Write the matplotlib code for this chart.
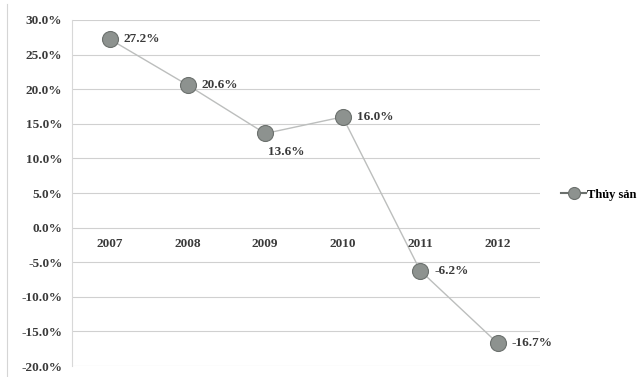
import matplotlib.pyplot as plt
from matplotlib.lines import Line2D
from matplotlib.ticker import FuncFormatter, MultipleLocator

# Dữ liệu
years = ["2007", "2008", "2009", "2010", "2011", "2012"]
growth = [27.2, 20.6, 13.6, 16.0, -6.2, -16.7]
series_name = "Thủy sản"

plt.rcParams.update({
    "font.family": ["Liberation Serif", "DejaVu Serif"],
    "font.weight": "bold",
    "font.size": 9.5,
})
FS = 9.5
TXT = "#3a3a3a"

fig = plt.figure(figsize=(6.44, 3.77), dpi=100)
ax = fig.add_axes([0.112, 0.029, 0.727, 0.918])

x = range(len(years))
ax.plot(x, growth, color="#bcbebd", linewidth=1.0, marker="o",
        markersize=11.5, markerfacecolor="#8d928f", markeredgecolor="#6b706d",
        markeredgewidth=0.8, label=series_name, zorder=3)

# Nhãn giá trị
for i, v in enumerate(growth):
    if i == 2:
        ax.annotate(f"{v:.1f}%", (i, v), xytext=(2, -13), textcoords="offset points",
                    ha="left", va="center", fontsize=FS, color=TXT)
    else:
        ax.annotate(f"{v:.1f}%", (i, v), xytext=(10, 0), textcoords="offset points",
                    ha="left", va="center", fontsize=FS, color=TXT)

# Nhãn năm nằm ngay dưới đường 0
for i, y in enumerate(years):
    ax.text(i, -2.4, y, ha="center", va="center", fontsize=FS, color=TXT)

ax.set_xlim(-0.49, len(years) - 0.45)
ax.set_ylim(-20, 30)
ax.yaxis.set_major_locator(MultipleLocator(5))
ax.yaxis.set_major_formatter(FuncFormatter(lambda v, p: f"{v:.1f}%"))
ax.set_xticks([])
ax.tick_params(axis="y", length=0, pad=7, colors=TXT, labelsize=FS)
ax.grid(axis="y", color="#d0d0d0", linewidth=0.8)
ax.set_axisbelow(True)
for s in ["top", "right", "bottom"]:
    ax.spines[s].set_visible(False)
ax.spines["left"].set_color("#d8d8d8")

leg = ax.legend(loc="center left", bbox_to_anchor=(1.026, 0.495), frameon=False,
                handlelength=2.0, markerscale=0.75, fontsize=9, handletextpad=0.1,
                borderaxespad=0.3)
leg.get_lines()[0].set_color("#6b706d")
leg.get_lines()[0].set_linewidth(1.5)

# viền trái của khung biểu đồ
fig.add_artist(Line2D([0.011, 0.011], [0.0, 0.99], color="#d5d5d5", linewidth=0.8))

fig.savefig("out.png", dpi=100)
